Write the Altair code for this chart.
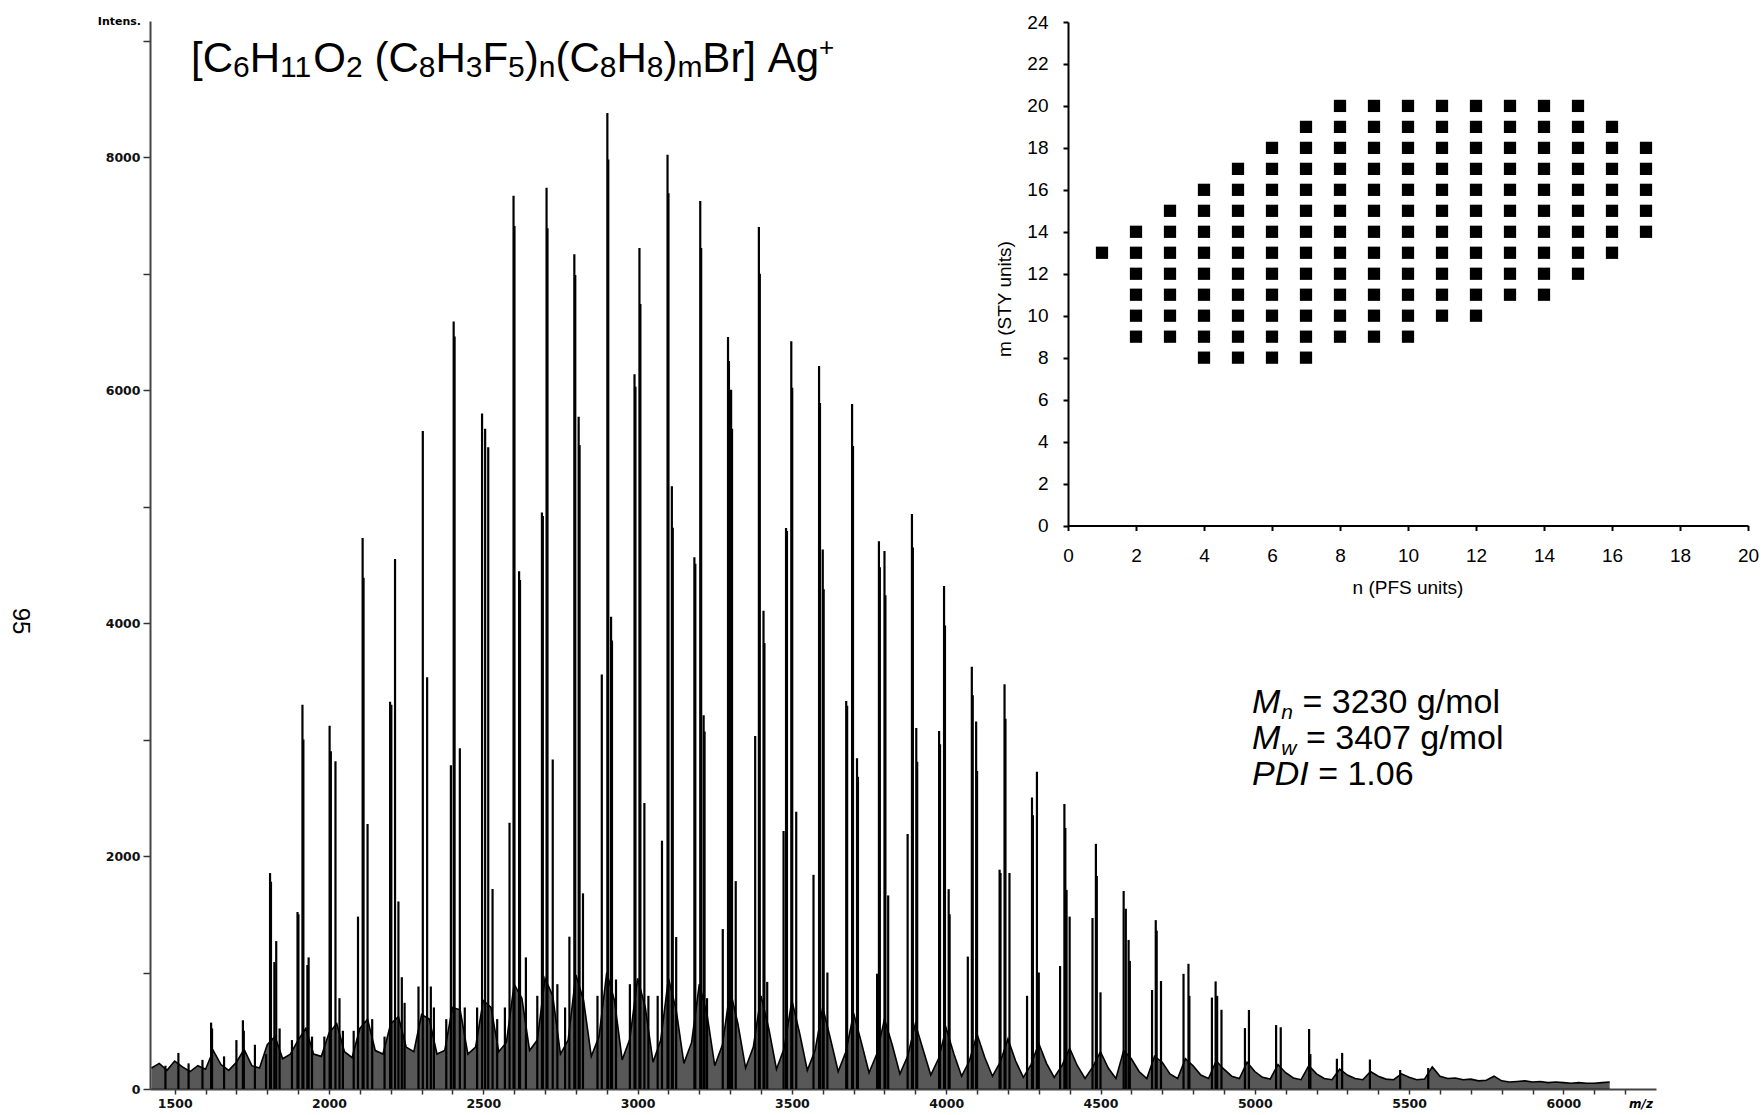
import altair as alt
import pandas as pd

# ---------------- main MALDI spectrum ----------------
peak_mz = [
    1470, 1512, 1545, 1590, 1618, 1621, 1660, 1700, 1721, 1724, 1760,
    1796, 1809, 1812, 1823, 1829, 1840,
    1880, 1898, 1901, 1914, 1917, 1930, 1934, 1945,
    1985, 2002, 2006, 2021, 2034, 2045,
    2080, 2094, 2109, 2112, 2125, 2140,
    2180, 2198, 2202, 2214, 2225, 2236, 2245,
    2290, 2304, 2318, 2330, 2340,
    2380, 2395, 2404, 2407, 2424, 2440,
    2480, 2496, 2506, 2516, 2530, 2545,
    2570, 2585, 2598, 2601, 2616, 2619, 2638,
    2675, 2690, 2693, 2705, 2708, 2725, 2740,
    2765, 2779, 2795, 2798, 2809, 2812, 2823,
    2870, 2884, 2902, 2905, 2914, 2917, 2930,
    2975, 2990, 2993, 3006, 3009, 3022, 3035,
    3065, 3079, 3097, 3100, 3111, 3114, 3125,
    3184, 3187, 3203, 3206, 3214, 3217, 3225,
    3276, 3293, 3296, 3303, 3306, 3318,
    3381, 3393, 3396, 3408, 3411, 3420,
    3473, 3481, 3484, 3498, 3501, 3514,
    3570, 3588, 3591, 3600, 3603, 3615,
    3676, 3679, 3695, 3698, 3711, 3714,
    3776, 3782, 3785, 3800, 3803, 3812,
    3875, 3889, 3892, 3903, 3906,
    3977, 3980, 3993, 3996, 4008, 4011,
    4070, 4083, 4086, 4097, 4100,
    4173, 4176, 4189, 4192, 4205,
    4262, 4278, 4281, 4294, 4300,
    4369, 4383, 4386, 4390, 4400,
    4474, 4485, 4488, 4500,
    4575, 4582, 4591, 4595,
    4667, 4679, 4682, 4696,
    4769, 4785, 4788,
    4861, 4873, 4878, 4892,
    4968, 4981, 5069, 5084, 5176, 5180, 5266, 5283, 5373, 5471, 5562,
]
peak_intensity = [
    200, 310, 220, 250, 570, 520, 280, 420, 590, 500, 380,
    300, 1854, 1780, 1090, 1270, 520,
    420, 1520, 1500, 3300, 3000, 1065, 1130, 450,
    450, 3118, 2900, 2815, 780, 500,
    500, 1480, 4730, 4390, 2275, 600,
    450, 3326, 3300, 4550, 1610, 960, 740,
    880, 5650, 3536, 880, 700,
    600, 2780, 6590, 6460, 2925, 700,
    700, 5800, 5670, 5510, 1717, 600,
    700, 2285, 7670, 7410, 4445, 4370, 1130,
    800, 4950, 4920, 7738, 7390, 2830, 900,
    700, 1308, 7167, 6990, 5772, 5530, 1680,
    800, 3560, 8380, 7980, 4054, 3850, 940,
    900, 6137, 6030, 7220, 6740, 2455, 800,
    800, 2132, 8022, 7690, 5176, 4820, 1305,
    4566, 4510, 7624, 7220, 3210, 3070, 780,
    1373, 6457, 6250, 6003, 5670, 1785,
    3030, 7402, 7000, 4106, 3830, 920,
    2215, 4816, 4790, 6421, 6020, 2381,
    1839, 6208, 5890, 4632, 4290, 1000,
    3332, 3290, 5882, 5520, 2840, 2680,
    990, 4704, 4480, 4620, 4240, 1662,
    2190, 4936, 4650, 3100, 2810,
    3073, 2960, 4318, 3980, 1716, 1500,
    1137, 3625, 3380, 3155, 2730,
    1883, 1855, 3476, 3180, 1855,
    800, 2502, 2350, 2724, 1000,
    1056, 2446, 2240, 1710, 1480,
    1468, 2105, 1830, 830,
    1700, 1548, 1280, 1100,
    850, 1450, 1360, 927,
    989, 1075, 800,
    785, 924, 800, 680,
    523, 678, 549, 530, 515, 300, 260, 310, 253, 163, 180,
]

# baseline / noise trace, sampled every 25 m/z from 1425 to 6150
base_mz = list(range(1425, 6151, 25))
base_intensity = [
    180, 220, 160, 240, 190, 150, 200, 170, 330, 210, 160, 230, 340, 200, 180, 380, 450, 260, 300, 420,
    520, 300, 280, 480, 560, 320, 270, 520, 600, 330, 300, 560, 620, 360, 320, 640, 600, 300, 330, 700,
    680, 300, 360, 760, 700, 320, 400, 900, 780, 330, 420, 950, 800, 300, 420, 980, 760, 280, 450, 1000,
    760, 250, 430, 950, 700, 230, 420, 950, 680, 220, 400, 900, 640, 200, 380, 850, 560, 180, 360, 800,
    520, 170, 350, 760, 480, 160, 330, 700, 430, 150, 320, 650, 400, 140, 300, 600, 380, 130, 280, 560,
    340, 120, 260, 520, 300, 110, 240, 470, 270, 110, 230, 430, 240, 100, 210, 390, 220, 100, 200, 350,
    200, 90, 190, 320, 180, 90, 330, 260, 150, 90, 280, 230, 130, 90, 260, 200, 120, 90, 240, 170,
    110, 90, 230, 150, 100, 85, 210, 140, 95, 80, 200, 130, 90, 80, 170, 120, 90, 80, 150, 110,
    85, 80, 130, 100, 80, 85, 190, 110, 90, 95, 80, 85, 70, 75, 110, 70, 60, 65, 70, 60,
    65, 55, 60, 55, 50, 55, 50, 50, 55, 60,
]

# ---------------- inset: observed (n, m) compositions ----------------
pfs_n = [1, 2, 3, 4, 5, 6, 7, 8, 9, 10, 11, 12, 13, 14, 15, 16, 17]
sty_lowest = [13, 9, 9, 8, 8, 8, 8, 9, 9, 9, 10, 10, 11, 11, 12, 13, 14]
sty_highest = [13, 14, 15, 16, 17, 18, 19, 20, 20, 20, 20, 20, 20, 20, 20, 19, 18]

# ---------------- texts ----------------
# (text, kind, space_before) -- spaces are applied as offsets since SVG trims them
formula_parts = [
    ("[C", "main", 0), ("6", "sub", 0), ("H", "main", 0), ("11", "sub", 0), ("O", "main", 0),
    ("2", "sub", 0), ("(C", "main", 1), ("8", "sub", 0), ("H", "main", 0), ("3", "sub", 0),
    ("F", "main", 0), ("5", "sub", 0), (")", "main", 0), ("n", "sub", 0), ("(C", "main", 0),
    ("8", "sub", 0), ("H", "main", 0), ("8", "sub", 0), (")", "main", 0), ("m", "sub", 0),
    ("Br]", "main", 0), ("Ag", "main", 1), ("+", "sup", 0),
]
stats_symbols = ["M", "M", "PDI"]
stats_subscripts = ["n", "w", ""]
stats_values = ["= 3230 g/mol", "= 3407 g/mol", "= 1.06"]

# ---------------- layout (pixels) ----------------
W, H = 1506, 1068
PAD = {"left": 150, "top": 21, "right": 106, "bottom": 26}
FONT = "Liberation Sans, Arial, sans-serif"
BOLD_FONT = "DejaVu Sans, sans-serif"

# Arial / Liberation Sans advance widths (per 1000 em)
ADV = {"[": 278, "]": 278, "(": 333, ")": 333, " ": 278, "C": 722, "H": 722, "O": 778,
       "F": 611, "B": 667, "r": 333, "A": 667, "g": 556, "n": 556, "m": 833, "w": 722,
       "+": 584, "M": 833, "P": 667, "D": 722, "I": 278}
for d in "0123456789":
    ADV[d] = 556


def text_width(s, size):
    return sum(ADV.get(c, 556) for c in s) * size / 1000.0


# formula pieces laid out left to right
SIZES = {"main": 42, "sub": 30, "sup": 26}
SHIFT = {"main": 0, "sub": 5, "sup": -16}
fx, fy = 41, 51
rows = []
for txt, kind, sp in formula_parts:
    fx += sp * text_width(" ", SIZES["main"])
    rows.append({"px": fx, "py": fy + SHIFT[kind], "txt": txt, "kind": kind})
    fx += text_width(txt, SIZES[kind])
formula_df = pd.DataFrame(rows)

# statistics block
STAT_SIZE, STAT_SUB = 34, 21
sx, sy0, sdy = 1102, 692, 36
sym_rows, sub_rows, val_rows = [], [], []
for i, (sym, sub, val) in enumerate(zip(stats_symbols, stats_subscripts, stats_values)):
    yb = sy0 + i * sdy
    sym_rows.append({"px": sx, "py": yb, "txt": sym})
    x1 = sx + text_width(sym, STAT_SIZE)
    if sub:
        sub_rows.append({"px": x1 + 1, "py": yb + 6, "txt": sub})
        x1 += text_width(sub, STAT_SUB) + 1
    x1 += text_width(" ", STAT_SIZE)
    val_rows.append({"px": x1, "py": yb, "txt": val})

# ---------------- data frames ----------------
peaks = pd.DataFrame({"mz": peak_mz, "intensity": peak_intensity})
base = pd.DataFrame({"mz": base_mz, "intensity": base_intensity})
pts = pd.DataFrame(
    [{"n": n, "m": m} for n, lo, hi in zip(pfs_n, sty_lowest, sty_highest) for m in range(lo, hi + 1)]
)

x_main = alt.X(
    "mz:Q",
    scale=alt.Scale(domain=[1420, 6300], nice=False, zero=False),
    axis=alt.Axis(
        values=list(range(1500, 6201, 100)),
        labelExpr="datum.value % 500 === 0 ? format(datum.value, 'd') : ''",
        tickSize=5, tickWidth=1.5, tickColor="#333",
        domainColor="#444", domainWidth=2,
        labelFont=BOLD_FONT, labelFontWeight="bold", labelFontSize=12.5, labelColor="#111",
        labelPadding=3, grid=False, title=None, labelFlush=False,
    ),
)
y_main = alt.Y(
    "intensity:Q",
    scale=alt.Scale(domain=[0, 9170], nice=False),
    axis=alt.Axis(
        values=list(range(0, 9001, 1000)),
        labelExpr="datum.value % 2000 === 0 ? format(datum.value, 'd') : ''",
        tickSize=7, tickWidth=1.5, tickColor="#333",
        domainColor="#444", domainWidth=2,
        labelFont=BOLD_FONT, labelFontWeight="bold", labelFontSize=12.5, labelColor="#111",
        labelPadding=3, grid=False, title=None, labelFlush=False,
    ),
)

base_area = alt.Chart(base).mark_area(color="#111", opacity=0.7).encode(x=x_main, y=y_main)
base_line = alt.Chart(base).mark_line(color="black", strokeWidth=1.6).encode(x=x_main, y=y_main)
rules = alt.Chart(peaks).mark_rule(color="black", strokeWidth=2.2).encode(
    x=x_main, y=y_main, y2=alt.datum(0)
)
spectrum = alt.layer(base_area, base_line, rules)

INSET_X = [918, 1598]
INSET_Y = [504.5, 1]
inset = alt.Chart(pts).mark_square(size=150, color="black", opacity=1).encode(
    x=alt.X(
        "n:Q",
        scale=alt.Scale(domain=[0, 20], range=INSET_X, nice=False),
        axis=alt.Axis(
            orient="bottom", offset=INSET_Y[0] - H, values=list(range(0, 21, 2)),
            tickSize=5, tickWidth=2, tickColor="black", domainColor="black", domainWidth=2,
            labelFont=FONT, labelFontSize=19, labelColor="black", labelPadding=16,
            grid=False, title=None, labelFlush=False,
        ),
    ),
    y=alt.Y(
        "m:Q",
        scale=alt.Scale(domain=[0, 24], range=INSET_Y, nice=False),
        axis=alt.Axis(
            orient="left", offset=-INSET_X[0], values=list(range(0, 25, 2)),
            tickSize=5, tickWidth=2, tickColor="black", domainColor="black", domainWidth=2,
            labelFont=FONT, labelFontSize=19, labelColor="black", labelPadding=15,
            grid=False, title=None, labelFlush=False,
        ),
    ),
)


def text_layer(df, size, style="normal", weight="normal", font=FONT, angle=0,
               align="left", baseline="alphabetic"):
    return alt.Chart(df).mark_text(
        fontSize=size, fontStyle=style, fontWeight=weight, font=font, angle=angle,
        align=align, baseline=baseline, color="black",
    ).encode(
        x=alt.X("px:Q", scale=None, axis=None),
        y=alt.Y("py:Q", scale=None, axis=None),
        text="txt:N",
    )


texts = [
    text_layer(formula_df[formula_df.kind == "main"], SIZES["main"]),
    text_layer(formula_df[formula_df.kind == "sub"], SIZES["sub"]),
    text_layer(formula_df[formula_df.kind == "sup"], SIZES["sup"]),
    text_layer(pd.DataFrame(sym_rows), STAT_SIZE, style="italic"),
    text_layer(pd.DataFrame(sub_rows), STAT_SUB, style="italic"),
    text_layer(pd.DataFrame(val_rows), STAT_SIZE),
    text_layer(pd.DataFrame([{"px": 1258, "py": 567, "txt": "n (PFS units)"}]), 19,
               align="center", baseline="middle"),
    text_layer(pd.DataFrame([{"px": 855, "py": 278, "txt": "m (STY units)"}]), 19,
               angle=270, align="center", baseline="middle"),
    text_layer(pd.DataFrame([{"px": 1491, "py": 1083, "txt": "m/z"}]), 12, style="italic",
               weight="bold", font=BOLD_FONT, align="center", baseline="middle"),
    text_layer(pd.DataFrame([{"px": -9, "py": 4, "txt": "Intens."}]), 11, weight="bold",
               font=BOLD_FONT, align="right"),
    text_layer(pd.DataFrame([{"px": -130, "py": 600, "txt": "95"}]), 24, angle=90,
               align="center", baseline="middle"),
]

chart = alt.layer(spectrum, inset, *texts).resolve_scale(
    x="independent", y="independent"
).properties(
    width=W, height=H, padding=PAD,
    autosize=alt.AutoSizeParams(type="none"),
    background="white",
).configure_view(stroke=None)

chart.save("out.html", embed_options={"renderer": "svg", "actions": False})
